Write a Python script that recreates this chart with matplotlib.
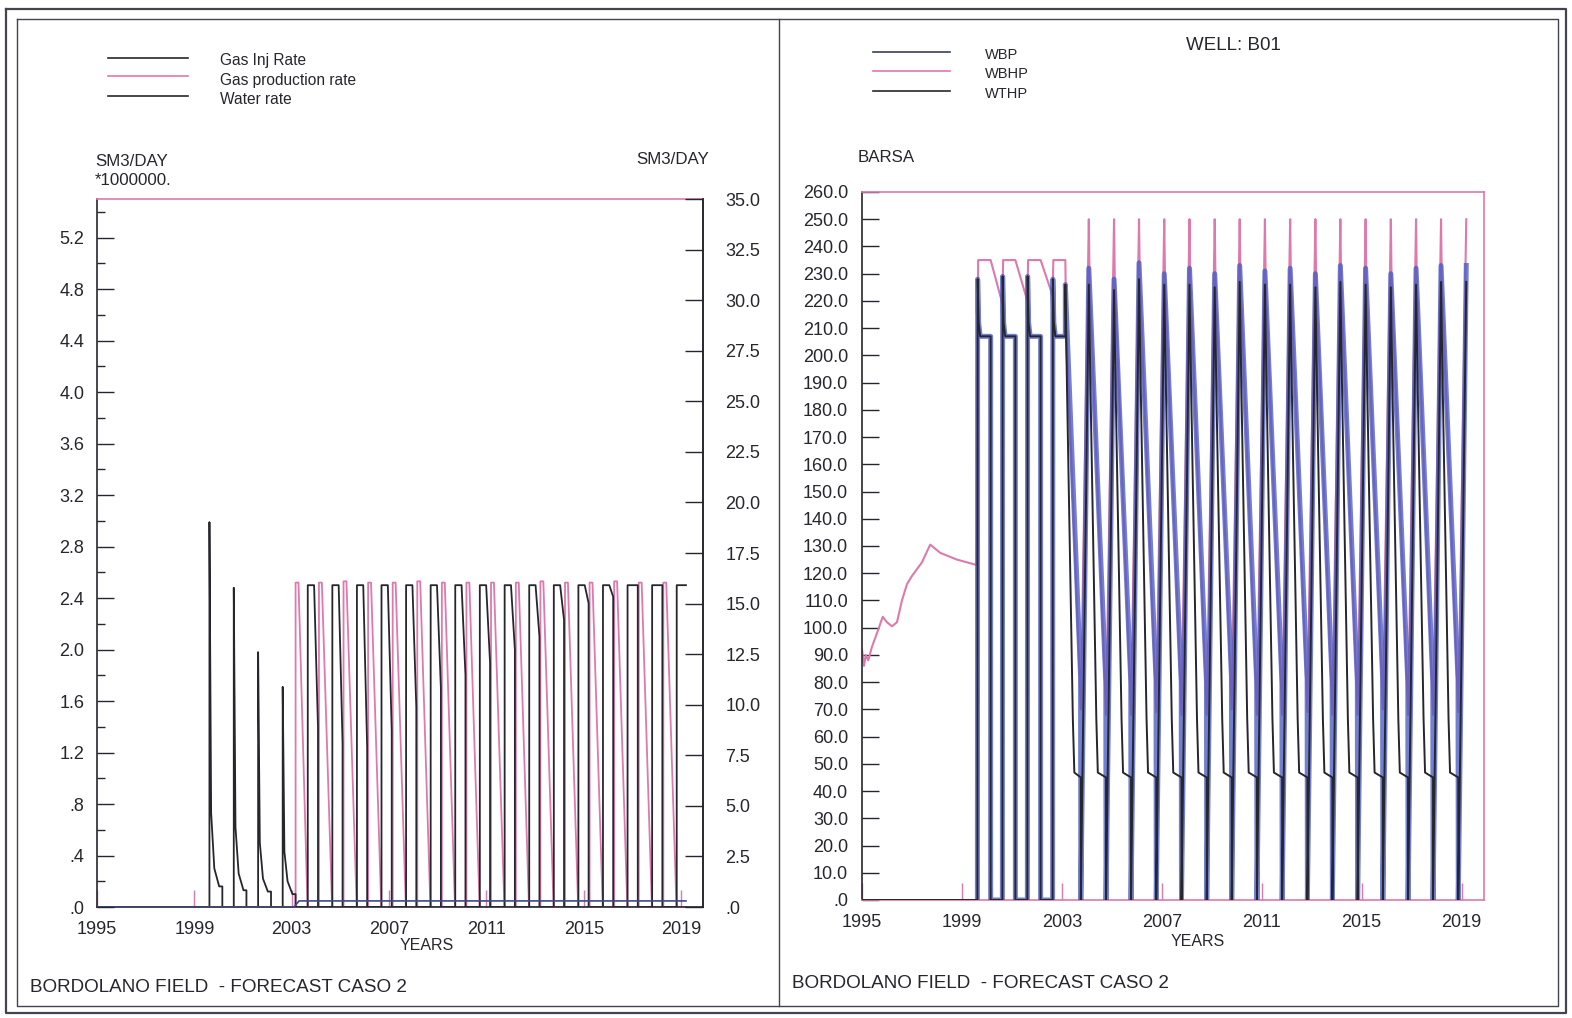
import numpy as np
import matplotlib
matplotlib.use("Agg")
import matplotlib.pyplot as plt
from matplotlib.ticker import MultipleLocator, FuncFormatter
from matplotlib.lines import Line2D

W, H = 1572, 1018

PINK = "#de79ad"
DARK = "#26262e"
BLUE = "#4a5cc4"

# ---------------- data ----------------
year_ticks = [1995, 1999, 2003, 2007, 2011, 2015, 2019]

# 1999-2003: injection spikes, well shut in between
pre_on = [1999.62, 2000.62, 2001.62, 2002.63]
pre_off = [2000.15, 2001.14, 2002.15, 2003.16]
spike_peak = [2.99, 2.48, 1.98, 1.71]     # SM3/DAY *1e6
spike_mid = [0.73, 0.62, 0.50, 0.43]
spike_low = [0.30, 0.26, 0.22, 0.20]
spike_tail = [0.16, 0.13, 0.12, 0.10]

# 2003-2019: yearly storage cycle, rates chart (production, then injection)
prod_start = [2003.16, 2004.12, 2005.13, 2006.14, 2007.15, 2008.16, 2009.17, 2010.18,
              2011.19, 2012.21, 2013.22, 2014.23, 2015.24, 2016.25, 2017.26, 2018.27]
inj_start = [2003.66, 2004.67, 2005.68, 2006.69, 2007.70, 2008.71, 2009.72, 2010.73,
             2011.75, 2012.76, 2013.77, 2014.78, 2015.79, 2016.80, 2017.81, 2018.82]
end_year = 2019.20

gas_prod_rate = [2.52, 2.52, 2.53, 2.52, 2.52, 2.53, 2.52, 2.52,
                 2.52, 2.52, 2.53, 2.52, 2.52, 2.53, 2.52, 2.52]
gas_inj_rate = [2.50, 2.50, 2.50, 2.50, 2.50, 2.50, 2.50, 2.50,
                2.50, 2.50, 2.50, 2.50, 2.50, 2.50, 2.50, 2.50]
gas_inj_tail = [1.40, 1.27, 1.24, 1.37, 1.55, 1.70, 1.80, 1.90,
                2.00, 2.10, 2.23, 2.36, 2.41, 2.50, 2.50, 2.50]

water_years = [1995.0, 2003.10, 2003.30, 2019.20]
water_rate = [0.0, 0.0, 0.30, 0.30]     # SM3/DAY (right axis)

# well B01 pressures, BARSA
early_years = [1995.0, 1995.08, 1995.15, 1995.25, 1995.40, 1995.60, 1995.83, 1996.0,
               1996.2, 1996.4, 1996.6, 1996.8, 1997.0, 1997.4, 1997.73, 1998.13, 1998.8, 1999.6]
early_press = [92, 86, 90, 88, 93, 98, 104, 102,
               100.5, 102, 110, 116, 119, 124, 130.5, 127.5, 125, 123]

pre_wbhp_top = [235, 235, 235, 235]
pre_wbhp_low = [219, 220, 222]
pre_wthp_top = [228, 229, 229, 228]
pre_wthp_flat = [207, 207, 207, 207]

# pressure chart breakpoints: pressure peaks (production start) and troughs (injection start)
press_peak_year = [2003.14, 2004.08, 2005.09, 2006.09, 2007.10, 2008.11, 2009.12, 2010.12,
                   2011.13, 2012.14, 2013.15, 2014.15, 2015.16, 2016.17, 2017.18, 2018.18,
                   2019.19]
press_trough_year = [2003.76, 2004.77, 2005.77, 2006.78, 2007.79, 2008.80, 2009.80, 2010.81,
                     2011.82, 2012.83, 2013.83, 2014.84, 2015.85, 2016.86, 2017.86, 2018.87]

wbhp_peak = [235, 250, 250, 250, 250, 250, 250, 250, 250,
             250, 250, 250, 250, 250, 250, 250, 250]
wbp_peak = [226, 232, 228, 234, 230, 232, 230, 233, 231,
            232, 230, 233, 232, 230, 232, 233, 233]
wthp_peak = [226, 226, 224, 228, 226, 226, 225, 227, 226,
             226, 225, 227, 226, 225, 226, 227, 227]
wbhp_trough = [70, 68, 68, 69, 68, 68, 70, 68, 68, 69, 68, 68, 70, 68, 68, 69]
wbp_trough = [82, 80, 80, 81, 80, 80, 82, 80, 80, 81, 80, 80, 82, 80, 80, 81]
wthp_floor = [45, 45, 45, 45, 45, 45, 45, 45, 45, 45, 45, 45, 45, 45, 45, 45]

# shape of the tubing pressure decline after production starts
decline_dt = [0.0, 0.07, 0.15, 0.23, 0.30, 0.36]
decline_frac = [1.0, 0.78, 0.55, 0.32, 0.12, 0.01]


# ---------------- build the step series ----------------
def gas_inj_series():
    t, v = [1995.0], [0.0]
    for on, off, pk, md, lo, tl in zip(pre_on, pre_off, spike_peak, spike_mid, spike_low, spike_tail):
        t += [on, on, on + 0.07, on + 0.20, on + 0.40, off, off]
        v += [0, pk, md, lo, tl, tl, 0]
    for k, I in enumerate(inj_start):
        r = gas_inj_rate[k]
        if k < len(inj_start) - 1:
            t += [I, I, I + 0.26, I + 0.42, I + 0.42]
            v += [0, r, r, gas_inj_tail[k], 0]
        else:
            t += [I, I, end_year]
            v += [0, r, r]
    return t, v


def gas_prod_series():
    t, v = [1995.0], [0.0]
    for k, (P, I) in enumerate(zip(prod_start, inj_start)):
        r = gas_prod_rate[k]
        t += [P, P, P + 0.12, I - 0.01]
        v += [0, r, r, 0]
    t.append(end_year)
    v.append(0)
    return t, v


def pre_tubing():
    t, v = [], []
    for i, (R, S) in enumerate(zip(pre_on, pre_off)):
        t += [R, R + 0.01, R + 0.05, R + 0.11]
        v += [0, pre_wthp_top[i], pre_wthp_flat[i] + 5, pre_wthp_flat[i]]
        if i < 3:
            t += [S, S]
            v += [pre_wthp_flat[i], 0]
        else:
            t.append(press_peak_year[0])
            v.append(pre_wthp_flat[i])
    return t, v


def wthp_series():
    t, v = pre_tubing()
    t, v = [1995.0] + t, [0.0] + v
    for k, I in enumerate(press_trough_year):
        P = press_peak_year[k]
        pk, fl = wthp_peak[k], wthp_floor[k]
        for dt, fr in zip(decline_dt, decline_frac):
            t.append(P + dt)
            v.append(fl + (pk - fl) * fr)
        t += [I, I]
        v += [fl, 0]
    t.append(press_peak_year[-1])
    v.append(wthp_peak[-1])
    return t, v


def wbp_series():
    t, v = pre_tubing()
    for k, I in enumerate(press_trough_year):
        t += [press_peak_year[k], I - 0.01, I]
        v += [wbp_peak[k], wbp_trough[k], 0]
    t.append(press_peak_year[-1])
    v.append(wbp_peak[-1])
    return t, v


def wbhp_series():
    t, v = list(early_years), list(early_press)
    for i, (R, S) in enumerate(zip(pre_on, pre_off)):
        t += [R + 0.03, S if i < 3 else press_peak_year[0]]
        v += [pre_wbhp_top[i], pre_wbhp_top[i]]
        if i < 3:
            t.append(pre_on[i + 1])
            v.append(pre_wbhp_low[i])
    for k, I in enumerate(press_trough_year):
        P = press_peak_year[k]
        t += [P, P + 0.03, I]
        v += [wbhp_peak[k], wbhp_peak[k] - 22, wbhp_trough[k]]
    t.append(press_peak_year[-1])
    v.append(wbhp_peak[-1])
    return t, v


def fmt(val, pos):
    s = f"{val:.1f}"
    return s[1:] if s.startswith("0.") else s


def fx(x):
    return x / W


def fy(y):
    return 1 - y / H


TICK_FONT = ["Liberation Sans", "DejaVu Sans"]
HEAD_FONT = ["Liberation Sans", "DejaVu Sans"]

fig = plt.figure(figsize=(W / 100, H / 100), dpi=100)
fig.patch.set_facecolor("white")


def style_axes(ax, pink_spines):
    ax.set_facecolor("none")
    for name, sp in ax.spines.items():
        sp.set_color(PINK if name in pink_spines else DARK)
        sp.set_linewidth(1.2)
    ax.set_xlim(1995, 2019.9)
    ax.set_xticks(year_ticks)
    ax.tick_params(axis="x", direction="in", length=12, color=PINK, width=1.0,
                   pad=10, labelsize=13, labelcolor=DARK)
    for lab in ax.get_xticklabels() + ax.get_yticklabels():
        lab.set_family(TICK_FONT)


# ---------------- left chart: rates ----------------
ax1 = fig.add_axes([fx(97), fy(907), fx(703) - fx(97), fy(199) - fy(907)])
ax1.set_ylim(0, 5.5)
ax1.yaxis.set_major_locator(MultipleLocator(0.4))
ax1.yaxis.set_minor_locator(MultipleLocator(0.2))
ax1.yaxis.set_major_formatter(FuncFormatter(fmt))
ax1.tick_params(axis="y", which="major", direction="in", length=12, width=1.0,
                pad=9, labelsize=13, color=DARK, labelcolor=DARK)
ax1.tick_params(axis="y", which="minor", direction="in", length=6, width=1.0, color=DARK)
style_axes(ax1, ["top"])

t, v = gas_prod_series()
ax1.plot(t, v, color=PINK, lw=1.3)
t, v = gas_inj_series()
ax1.plot(t, v, color=DARK, lw=1.3)

ax1r = ax1.twinx()
ax1r.set_ylim(0, 35)
ax1r.yaxis.set_major_locator(MultipleLocator(2.5))
ax1r.yaxis.set_major_formatter(FuncFormatter(fmt))
ax1r.tick_params(axis="y", direction="in", length=13, width=1.0, pad=16,
                 labelsize=13, color=DARK, labelcolor=DARK)
for name, sp in ax1r.spines.items():
    sp.set_visible(name == "right")
    sp.set_color(DARK)
    sp.set_linewidth(1.2)
for lab in ax1r.get_yticklabels():
    lab.set_family(TICK_FONT)
ax1r.plot(water_years, water_rate, color="#3b4a8a", lw=1.2)

# ---------------- right chart: pressures ----------------
ax2 = fig.add_axes([fx(862), fy(900), fx(1484) - fx(862), fy(192) - fy(900)])
ax2.set_ylim(0, 260)
ax2.yaxis.set_major_locator(MultipleLocator(10))
ax2.yaxis.set_major_formatter(FuncFormatter(fmt))
ax2.tick_params(axis="y", direction="in", length=12, width=1.0, pad=10,
                labelsize=13, color=DARK, labelcolor=DARK)
style_axes(ax2, ["top", "right", "bottom"])

t, v = wbhp_series()
ax2.plot(t, v, color=PINK, lw=1.5, zorder=2)
t, v = wbp_series()
ax2.plot(t, v, color=BLUE, lw=3.6, alpha=0.78, zorder=3)
t, v = wthp_series()
ax2.plot(t, v, color=DARK, lw=1.4, zorder=4)

# ---------------- legends, labels, frame ----------------
legend_left = [("Gas Inj Rate", DARK), ("Gas production rate", PINK), ("Water rate", DARK)]
for (label, col), ly, ty in zip(legend_left, [58, 76, 96], [60, 80, 100]):
    fig.add_artist(Line2D([fx(108), fx(188)], [fy(ly), fy(ly)], color=col, lw=1.2))
    fig.text(fx(220), fy(ty), label, fontsize=11.2, family=HEAD_FONT, color=DARK, va="center")

legend_right = [("WBP", "#3a3f5c"), ("WBHP", PINK), ("WTHP", DARK)]
for (label, col), ly, ty in zip(legend_right, [52, 71, 91], [55, 74, 94]):
    fig.add_artist(Line2D([fx(873), fx(950)], [fy(ly), fy(ly)], color=col, lw=1.2))
    fig.text(fx(985), fy(ty), label, fontsize=10.5, family=HEAD_FONT, color=DARK, va="center")

fig.text(fx(1186), fy(46), "WELL: B01", fontsize=13.5, family=HEAD_FONT, color=DARK, va="center")

fig.text(fx(95), fy(161), "SM3/DAY", fontsize=12.2, family=HEAD_FONT, color=DARK, va="center")
fig.text(fx(95), fy(181), "*1000000.", fontsize=12.2, family=HEAD_FONT, color=DARK, va="center")
fig.text(fx(636), fy(159), "SM3/DAY", fontsize=12.2, family=HEAD_FONT, color=DARK, va="center")
fig.text(fx(858), fy(157), "BARSA", fontsize=12.2, family=HEAD_FONT, color=DARK, va="center")

fig.text(fx(427), fy(945), "YEARS", fontsize=11.5, family=HEAD_FONT, color=DARK, va="center", ha="center")
fig.text(fx(1198), fy(942), "YEARS", fontsize=11.5, family=HEAD_FONT, color=DARK, va="center", ha="center")

fig.text(fx(30), fy(987), "BORDOLANO FIELD  - FORECAST CASO 2", fontsize=13.6,
         family=HEAD_FONT, color=DARK, va="center")
fig.text(fx(792), fy(984), "BORDOLANO FIELD  - FORECAST CASO 2", fontsize=13.6,
         family=HEAD_FONT, color=DARK, va="center")

# double border of the scanned sheet + divider
for x0, x1, y0, y1, lw in [(6, 1566, 9, 1013, 1.6), (17, 1558, 19, 1006, 1.0)]:
    fig.add_artist(Line2D([fx(x0), fx(x1), fx(x1), fx(x0), fx(x0)],
                          [fy(y0), fy(y0), fy(y1), fy(y1), fy(y0)], color="#444450", lw=lw))
fig.add_artist(Line2D([fx(779), fx(779)], [fy(19), fy(1006)], color="#444450", lw=1.0))

fig.savefig("out.png", dpi=100, facecolor="white")
